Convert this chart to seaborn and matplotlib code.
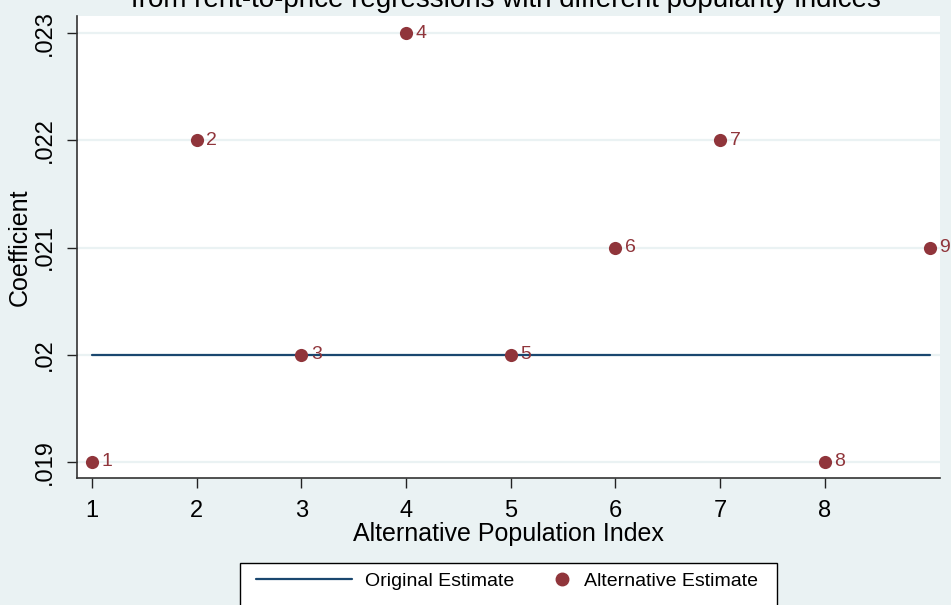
import numpy as np
import pandas as pd
import matplotlib
matplotlib.use('Agg')
import matplotlib.pyplot as plt
import seaborn as sns
from matplotlib.lines import Line2D
from matplotlib.patches import Rectangle
from matplotlib.legend_handler import HandlerBase

# data
index = [1, 2, 3, 4, 5, 6, 7, 8, 9]
alternative = [0.019, 0.022, 0.020, 0.023, 0.020, 0.021, 0.022, 0.019, 0.021]
original = [0.020] * 9
xticks = [1, 2, 3, 4, 5, 6, 7, 8]
yticks = [0.019, 0.020, 0.021, 0.022, 0.023]
ytick_labels = ['.019', '.02', '.021', '.022', '.023']

NAVY = '#1A476F'
MAROON = '#90353B'
BG = '#EAF2F3'


class RightMarker(HandlerBase):
    # single marker sitting at the right end of the handle, next to the text
    def create_artists(self, legend, orig_handle, xdescent, ydescent,
                       width, height, fontsize, trans):
        m = Line2D([-xdescent + width - 6], [height / 2 - ydescent])
        self.update_prop(m, orig_handle, legend)
        m.set_transform(trans)
        return [m]


def plot_estimates(output_path):
    sns.set_style("white")
    plt.rcParams['font.family'] = ['Liberation Sans', 'DejaVu Sans']
    plt.rcParams['text.color'] = 'black'
    plt.rcParams['axes.labelcolor'] = 'black'
    plt.rcParams['xtick.color'] = 'black'
    plt.rcParams['ytick.color'] = 'black'

    df = pd.DataFrame({'index': index, 'alternative': alternative, 'original': original})

    fig = plt.figure(figsize=(9.51, 6.05), dpi=100, facecolor=BG)
    ax = fig.add_axes([77 / 951, 1 - 478 / 605, 863 / 951, 462 / 605])
    ax.set_facecolor('white')

    for y in yticks:
        ax.axhline(y, color=BG, lw=1.6, zorder=0)

    sns.lineplot(data=df, x='index', y='original', color=NAVY, lw=1.6, ax=ax, zorder=2)
    sns.scatterplot(data=df, x='index', y='alternative', color=MAROON, s=90,
                    edgecolor=MAROON, linewidth=0, ax=ax, zorder=3)
    for xi, yi in zip(df['index'], df['alternative']):
        ax.annotate(str(xi), (xi, yi), xytext=(7, 0), textcoords='offset points',
                    va='center', ha='left', color=MAROON, fontsize=14, zorder=4)

    ax.set_xlim(0.857, 9.1)
    ax.set_ylim(0.01885, 0.02316)
    ax.set_xticks(xticks)
    ax.set_xticklabels([str(t) for t in xticks], fontsize=17)
    ax.set_yticks(yticks)
    ax.set_yticklabels(ytick_labels, fontsize=17, rotation=90, va='center')
    ax.tick_params(axis='both', direction='out', length=7.5, width=1, color='#222222',
                   labelcolor='black', bottom=True, left=True)
    ax.tick_params(axis='x', pad=8)
    ax.tick_params(axis='y', pad=8)

    for side in ['top', 'right']:
        ax.spines[side].set_visible(False)
    for side in ['left', 'bottom']:
        ax.spines[side].set_color('#333333')
        ax.spines[side].set_linewidth(1.2)

    ax.set_xlabel('Alternative Population Index', fontsize=18, labelpad=0)
    ax.set_ylabel('Coefficient', fontsize=18, labelpad=1)

    fig.text(506 / 951, 1 - 7 / 605, 'from rent-to-price regressions with different popularity indices',
             ha='center', va='baseline', fontsize=20)

    # legend box runs off the bottom edge like the reference
    fig.patches.append(Rectangle((240 / 951, -0.05), 537 / 951, 0.05 + 42 / 605,
                                 transform=fig.transFigure, facecolor='white',
                                 edgecolor='black', lw=1.0, zorder=1))
    handles = [Line2D([], [], color=NAVY, lw=1.6),
               Line2D([], [], color=MAROON, marker='o', ls='none', markersize=9)]
    fig.legend(handles, ['Original Estimate', 'Alternative Estimate'],
               handler_map={handles[1]: RightMarker()},
               loc='center', bbox_to_anchor=(507 / 951, 1 - 581 / 605), ncol=2,
               frameon=False, fontsize=14, handlelength=4.9, handletextpad=0.7,
               columnspacing=-2.04, labelcolor='black')

    fig.savefig(output_path, dpi=100, facecolor=BG)


if __name__ == "__main__":
    plot_estimates('out.png')
